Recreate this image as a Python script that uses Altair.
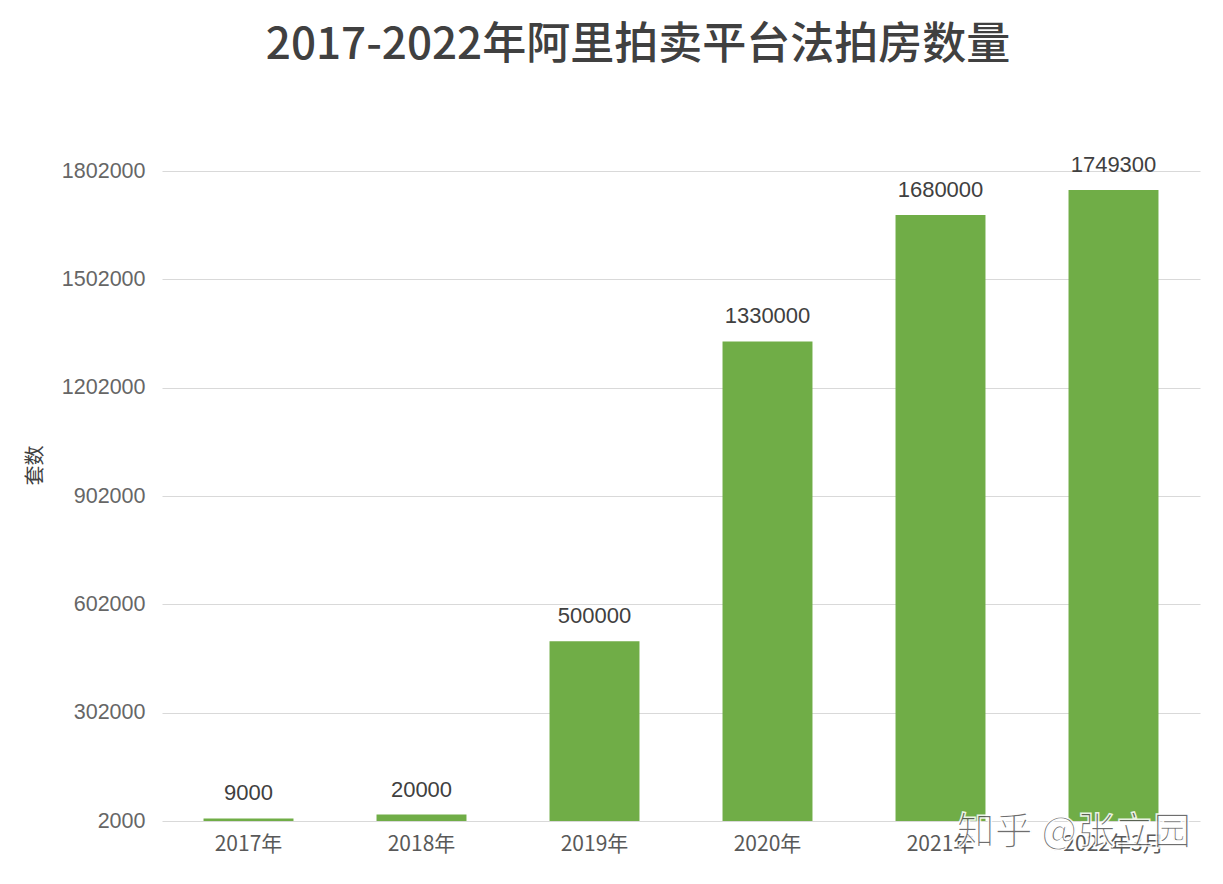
import altair as alt
import pandas as pd

categories = ["2017年", "2018年", "2019年", "2020年", "2021年", "2022年3月"]
values = [9000, 20000, 500000, 1330000, 1680000, 1749300]
tick_values = [2000, 302000, 602000, 902000, 1202000, 1502000, 1802000]
title_text = "2017-2022年阿里拍卖平台法拍房数量"
y_title = "套数"
watermark = "知乎 @张立园"

df = pd.DataFrame({"cat": categories, "val": values, "base": [2000] * len(values)})

FONT = "Noto Sans CJK SC"
W, H = 1038, 650

x = alt.X("cat:N", sort=categories,
          scale=alt.Scale(paddingInner=0.48, paddingOuter=0.24),
          axis=alt.Axis(title=None, labelAngle=0, labelFontSize=21, labelColor="#595959",
                        labelFont=FONT, labelPadding=12, ticks=False, domain=False))
y = alt.Y("val:Q", scale=alt.Scale(domain=[2000, 1802000], zero=False, nice=False),
          axis=alt.Axis(values=tick_values, format="d", title=y_title, titleFont=FONT,
                        titleFontSize=20, titleFontWeight="normal", titleColor="#404040",
                        titleAngle=-90, titleX=-127, titleY=294, titleAlign="center",
                        titleBaseline="middle",
                        labelFontSize=21.5, labelColor="#666666", labelFont="Liberation Sans",
                        labelPadding=17, ticks=False, domain=False,
                        gridColor="#d9d9d9", gridWidth=1))

bars = alt.Chart(df).mark_bar(color="#70AD47").encode(x=x, y=y, y2="base:Q")

labels = alt.Chart(df).mark_text(baseline="bottom", dy=-13, fontSize=22,
                                  font="Liberation Sans", color="#404040").encode(
    x=alt.X("cat:N", sort=categories), y="val:Q", text="val:Q")

wm = alt.Chart(pd.DataFrame({"t": [watermark]})).mark_text(
    fontSize=38, font=FONT, color="#555555", opacity=0.85, align="center",
    baseline="middle", stroke="white", strokeWidth=1.5).encode(
    x=alt.value(1074 - 162), y=alt.value(833 - 171), text="t:N")

chart = alt.layer(bars, labels, wm).properties(
    width=W, height=H,
    background="white",
    title=alt.TitleParams(title_text, fontSize=44, font=FONT, fontWeight=500,
                          color="#404040", anchor="middle", dx=-43, offset=86),
    autosize=alt.AutoSizeParams(type="none"),
    padding={"left": 154, "top": 163, "right": 15, "bottom": 50},
).configure_view(stroke=None)

chart.save("out.html", embed_options={"renderer": "svg", "actions": False})
